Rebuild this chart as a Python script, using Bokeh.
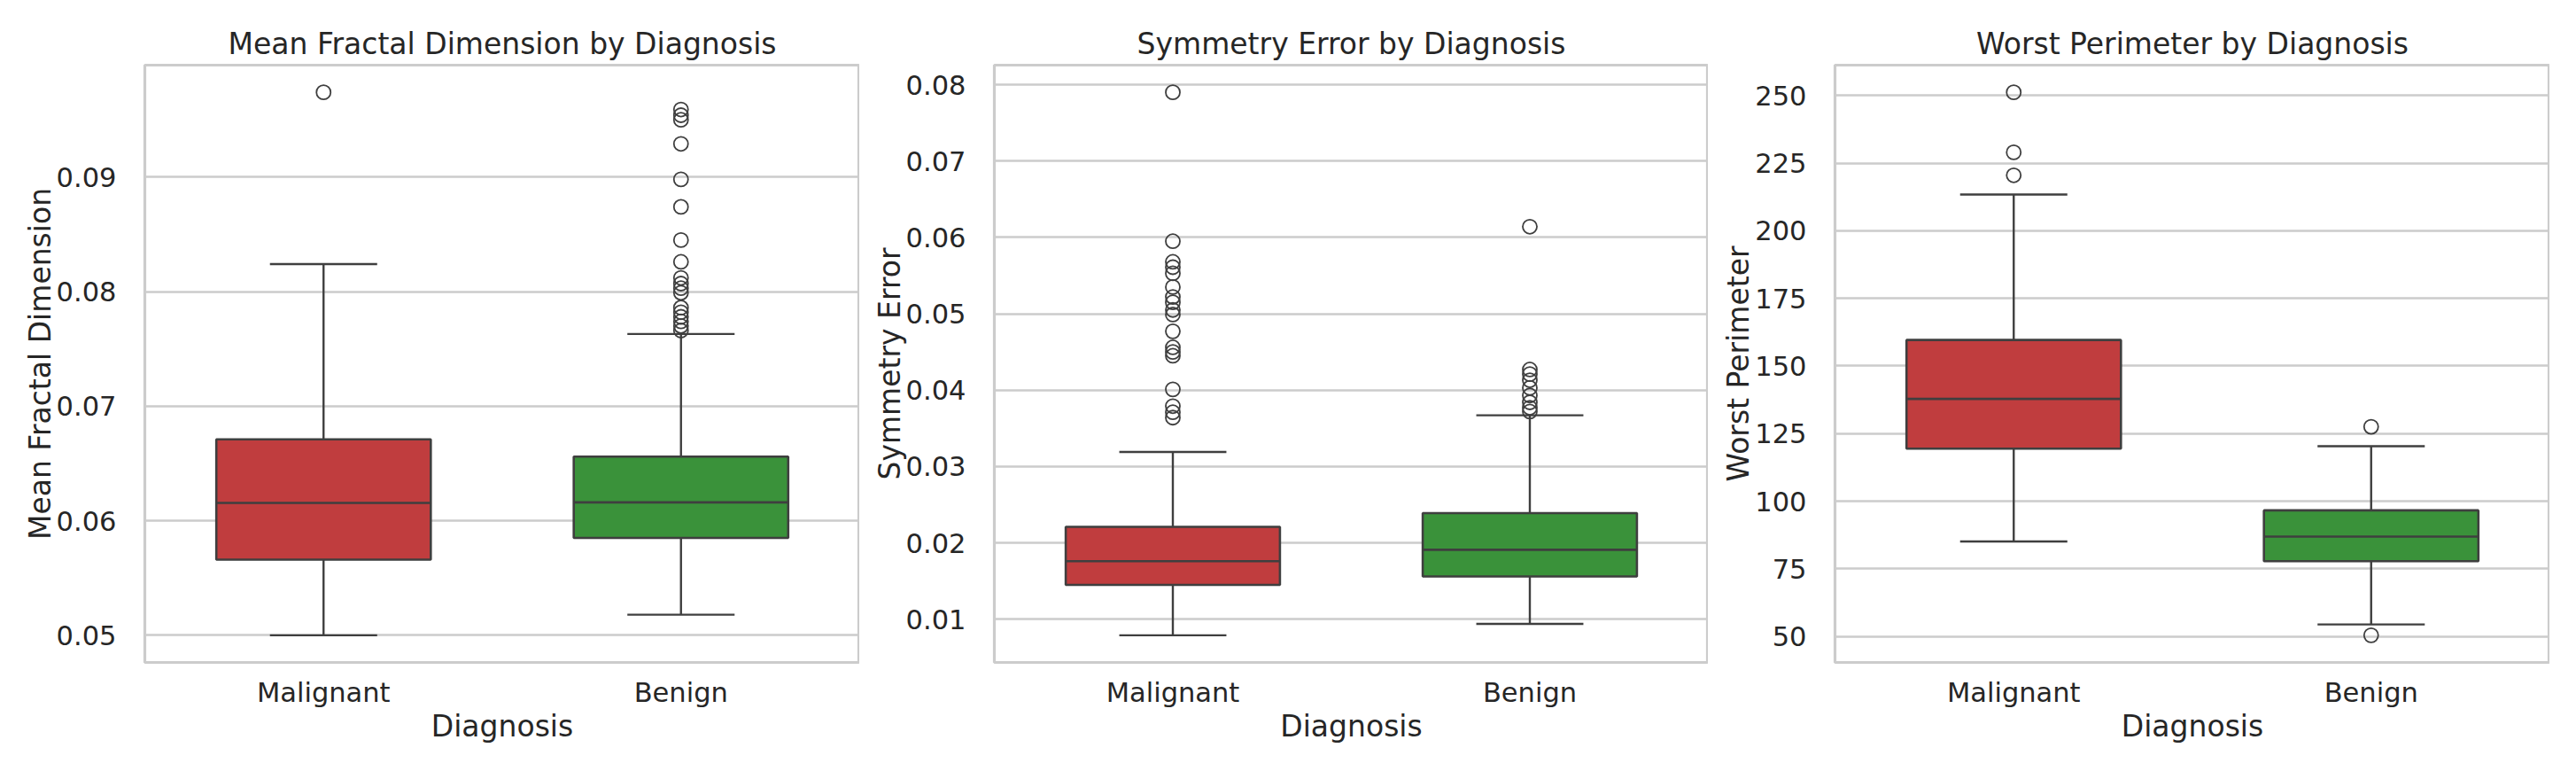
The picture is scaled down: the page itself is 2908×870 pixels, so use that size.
from bokeh.plotting import figure
from bokeh.layouts import row
from bokeh.models import FactorRange, Range1d, FixedTicker, ColumnDataSource, NumeralTickFormatter
from bokeh.transform import dodge
from bokeh.embed import file_html
from bokeh.resources import INLINE

# ---------------- data ----------------
categories = ["Malignant", "Benign"]

# Mean Fractal Dimension
mfd_whislo = [0.0500, 0.0518]
mfd_q1 = [0.0566, 0.0585]
mfd_median = [0.06155, 0.0616]
mfd_q3 = [0.0671, 0.0656]
mfd_whishi = [0.0824, 0.0763]
mfd_out_malignant = [0.0974]
mfd_out_benign = [0.0959, 0.0954, 0.0950, 0.0929, 0.0898, 0.0874, 0.0845, 0.0826,
                  0.0812, 0.0807, 0.0803, 0.0799, 0.0786, 0.0782, 0.0778, 0.0774,
                  0.0770, 0.0766]
mfd_ticks = [0.05, 0.06, 0.07, 0.08, 0.09]

# Symmetry Error
se_whislo = [0.0079, 0.0094]
se_q1 = [0.0145, 0.0156]
se_median = [0.0176, 0.0191]
se_q3 = [0.0221, 0.0239]
se_whishi = [0.0319, 0.0367]
se_out_malignant = [0.0790, 0.0595, 0.0568, 0.0561, 0.0553, 0.0535, 0.0522, 0.0515,
                    0.0505, 0.0499, 0.0477, 0.0456, 0.0450, 0.0445, 0.0401, 0.0379,
                    0.0371, 0.0364]
se_out_benign = [0.0614, 0.0427, 0.0421, 0.0413, 0.0403, 0.0393, 0.0384, 0.0377, 0.0372]
se_ticks = [0.01, 0.02, 0.03, 0.04, 0.05, 0.06, 0.07, 0.08]

# Worst Perimeter
wp_whislo = [85.1, 54.4]
wp_q1 = [119.4, 77.8]
wp_median = [137.8, 86.9]
wp_q3 = [159.6, 96.6]
wp_whishi = [213.4, 120.3]
wp_out_malignant = [251.2, 229.0, 220.5]
wp_out_benign = [127.5, 50.4]
wp_ticks = [50, 75, 100, 125, 150, 175, 200, 225, 250]

# ---------------- style ----------------
FONT = "DejaVu Sans"
TEXT = "#262626"
LINE = "#3f3f3f"
GRID = "#cccccc"
box_colors = ["#C03D3E", "#3A923A"]


def make_panel(title, ylabel, whislo, q1, med, q3, whishi, out_m, out_b, ticks, fmt,
               border_left, frame_w):
    lo = min(min(whislo), min(out_m + out_b))
    hi = max(max(whishi), max(out_m + out_b))
    pad = 0.05 * (hi - lo)
    p = figure(x_range=FactorRange(factors=categories),
               y_range=Range1d(lo - pad, hi + pad),
               frame_width=frame_w, frame_height=674,
               min_border_left=border_left, min_border_right=0,
               min_border_top=73, min_border_bottom=110,
               output_backend="svg", toolbar_location=None,
               background_fill_color="white", border_fill_color="white")
    p.title.text = title
    p.title.align = "center"
    p.title.text_font = FONT
    p.title.text_font_size = "33px"
    p.title.text_font_style = "normal"
    p.title.text_color = TEXT

    p.outline_line_color = GRID
    p.outline_line_width = 3.2

    p.xgrid.visible = False
    p.ygrid.grid_line_color = GRID
    p.ygrid.grid_line_width = 2.3

    for ax in (p.xaxis[0], p.yaxis[0]):
        ax.axis_line_color = None
        ax.major_tick_line_color = None
        ax.minor_tick_line_color = None
        ax.major_label_text_font = FONT
        ax.major_label_text_font_size = "30.5px"
        ax.major_label_text_color = TEXT
        ax.axis_label_text_font = FONT
        ax.axis_label_text_font_size = "33px"
        ax.axis_label_text_font_style = "normal"
        ax.axis_label_text_color = TEXT
    p.xaxis.axis_label = "Diagnosis"
    p.yaxis.axis_label = ylabel
    p.xaxis.major_label_standoff = 10
    p.yaxis.major_label_standoff = 26
    p.xaxis.axis_label_standoff = -2
    p.yaxis.axis_label_standoff = -4
    p.yaxis.ticker = FixedTicker(ticks=ticks)
    p.yaxis.formatter = NumeralTickFormatter(format=fmt)

    src = ColumnDataSource(dict(cat=categories, whislo=whislo, q1=q1, med=med,
                                q3=q3, whishi=whishi, color=box_colors))
    # whiskers
    p.segment(x0="cat", x1="cat", y0="q3", y1="whishi", source=src,
              line_color=LINE, line_width=2.4)
    p.segment(x0="cat", x1="cat", y0="q1", y1="whislo", source=src,
              line_color=LINE, line_width=2.4)
    # boxes
    p.vbar(x="cat", width=0.6, bottom="q1", top="q3", source=src,
           fill_color="color", line_color=LINE, line_width=2.6)
    # medians
    p.segment(x0=dodge("cat", -0.3, range=p.x_range), x1=dodge("cat", 0.3, range=p.x_range),
              y0="med", y1="med", source=src, line_color=LINE, line_width=2.6)
    # caps
    p.segment(x0=dodge("cat", -0.15, range=p.x_range), x1=dodge("cat", 0.15, range=p.x_range),
              y0="whishi", y1="whishi", source=src, line_color=LINE, line_width=2.4)
    p.segment(x0=dodge("cat", -0.15, range=p.x_range), x1=dodge("cat", 0.15, range=p.x_range),
              y0="whislo", y1="whislo", source=src, line_color=LINE, line_width=2.4)
    # fliers
    fx = [categories[0]] * len(out_m) + [categories[1]] * len(out_b)
    fy = out_m + out_b
    p.scatter(x=fx, y=fy, marker="circle", size=16, fill_alpha=0,
              line_color=LINE, line_width=1.8)
    return p


p1 = make_panel("Mean Fractal Dimension by Diagnosis", "Mean Fractal Dimension",
                mfd_whislo, mfd_q1, mfd_median, mfd_q3, mfd_whishi,
                mfd_out_malignant, mfd_out_benign, mfd_ticks, "0.00", 163, 807)
p2 = make_panel("Symmetry Error by Diagnosis", "Symmetry Error",
                se_whislo, se_q1, se_median, se_q3, se_whishi,
                se_out_malignant, se_out_benign, se_ticks, "0.00", 152, 806)
p3 = make_panel("Worst Perimeter by Diagnosis", "Worst Perimeter",
                wp_whislo, wp_q1, wp_median, wp_q3, wp_whishi,
                wp_out_malignant, wp_out_benign, wp_ticks, "0", 143, 807)

layout = row(p1, p2, p3)
open("out.html", "w").write(file_html(layout, INLINE))
